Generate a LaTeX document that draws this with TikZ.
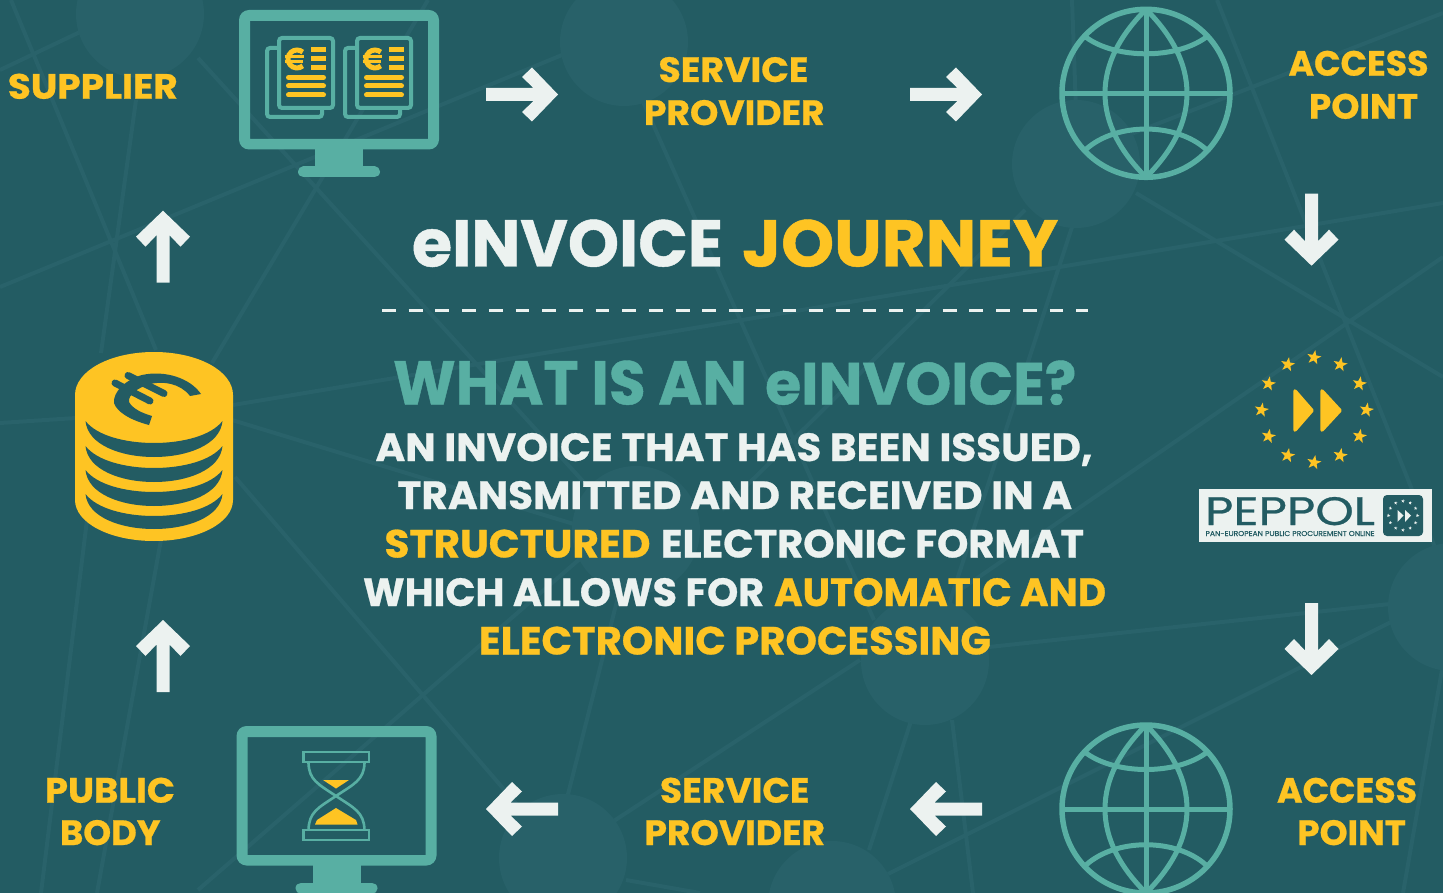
\documentclass[tikz,border=0pt]{standalone}
\usepackage{graphicx}
\usepackage{fontspec}
\setmainfont{Poppins}[BoldFeatures={FakeBold=0.7}]
\newfontfamily\logofont{Poppins}[FakeBold=0.6]
\usetikzlibrary{calc}
\definecolor{bgc}{HTML}{235C63}
\definecolor{netc}{HTML}{29626A}
\definecolor{tealc}{HTML}{58AFA3}
\definecolor{yelc}{HTML}{FEC423}
\definecolor{whc}{HTML}{ECF2F0}
% name, x, baseline y, width, height, text
\newcommand\txt[7][yelc]{\node[lab,text=#1] (#2) at (#3,#4) {\resizebox{#5pt}{#6pt}{\bfseries #7}};}
\newcommand\wrun[3]{\resizebox{#1pt}{#2pt}{\bfseries #3}}
\newcommand\yl[1]{\textcolor{yelc}{#1}}
\newcommand\starshape[1]{(-80:#1) -- (-44:0.4*#1) -- (-8:#1) -- (28:0.4*#1) -- (64:#1) -- (100:0.4*#1) -- (136:#1) -- (172:0.4*#1) -- (208:#1) -- (244:0.4*#1) -- cycle}
\newcommand\crescent[3]{%
  \pgfmathsetmacro\cu{(8*#2-2*#1)/6}\pgfmathsetmacro\cl{(8*#3-2*#1)/6}%
  \fill[bgc] (85.5,#1) .. controls (108,\cu) and (200,\cu) .. (222.5,#1)
     .. controls (218,\cl) and (90,\cl) .. (85.5,#1) -- cycle;}
\tikzset{
  lab/.style={anchor=base west,inner sep=0pt,outer sep=0pt},
  net/.style={draw=netc,line width=4pt},
  hub/.style={fill=netc!80!bgc},
  icon/.style={draw=tealc,line width=5pt},
  blockarrow/.pic={\fill[whc] (0,0) -- (-26,27) -- (-36,17.5) -- (-24.5,6.5) -- (-72,6.5) -- (-72,-6.5) -- (-24.5,-6.5) -- (-36,-17.5) -- (-26,-27) -- cycle;},
  monitor/.pic={
    \fill[tealc,even odd rule,rounded corners=10pt] (0,0) rectangle (200,139.5) [sharp corners] (11,11) rectangle (189,129);
    \fill[tealc] (76,139) rectangle (124,157);
    \draw[tealc,line width=11pt,line cap=round] (64.5,162) -- (135.5,162);
  },
  euro/.pic={
    \draw[yelc,line width=5pt] (50:9) arc[start angle=50,end angle=310,radius=9];
    \draw[yelc,line width=2.8pt] (-12.5,-2.8) -- (7,-2.8) (-12.5,2.8) -- (6,2.8);
  },
  docpair/.pic={
    \draw[tealc,line width=4pt,rounded corners=3pt] (2,14) rectangle (57,83);
    \draw[tealc,fill=bgc,line width=4pt,rounded corners=3pt] (14,4) rectangle (68,74);
    \pic at (32,25) {euro};
    \draw[yelc,line width=5pt,line cap=round] (23.5,43.5) -- (58.5,43.5) (23.5,52) -- (58.5,52) (23.5,61) -- (58.5,61);
    \draw[yelc,line width=5pt] (46,16) -- (61,16) (46,25) -- (61,25) (46,34) -- (61,34);
  },
  globe/.pic={
    \draw[icon,line width=5.5pt] (0,0) circle[radius=84];
    \draw[icon] (0,-84) -- (0,84) (-84,0) -- (84,0);
    \draw[icon] (0,-84) .. controls (-26,-58) and (-41,-30) .. (-41,0) .. controls (-41,30) and (-26,58) .. (0,84);
    \draw[icon] (0,-84) .. controls (26,-58) and (41,-30) .. (41,0) .. controls (41,30) and (26,58) .. (0,84);
    \draw[icon] (-60,-56) .. controls (-30,-34) and (30,-34) .. (60,-56);
    \draw[icon] (-60,56) .. controls (-30,29) and (30,29) .. (60,56);
  },
}
\begin{document}
\begin{tikzpicture}[x=1pt,y=-1pt]
\useasboundingbox (0,0) rectangle (1443,893);
\fill[bgc] (0,0) rectangle (1443,893);
\begin{scope}
\clip (0,0) rectangle (1443,893);
% background network
\foreach \a/\b/\c/\d in {11/0/156/350, 0/70/80/32, 198/58/600/500, 0/287/562/55, 136/100/101/353,
  428/0/212/363, 233/405/1443/203, 0/423/76/418, 232/420/600/532, 235/477/563/858, 590/550/198/890,
  87/520/41/893, 170/490/97/893, 1217/0/1440/560, 1136/193/1443/377, 1443/257/960/590, 1443/13/1090/150,
  1072/0/1076/110, 1072/227/869/850, 1025/210/722/510, 640/95/874/620, 888/874/1395/620, 989/647/1390/604,
  600/830/860/660, 640/510/543/893, 952/720/973/893, 1443/664/1403/893, 626/880/700/893}
  \draw[net] (\a,\b) -- (\c,\d);
\foreach \a/\b in {140/14, 624/42, 1076/164, 1452/607, 925/661, 832/905, 563/858, 636/530}
  \fill[hub] (\a,\b) circle[radius=64];
\end{scope}

% arrows
\pic at (558,94.5) {blockarrow};
\pic at (982,94.5) {blockarrow};
\pic[rotate=-90] at (1311.5,265.7) {blockarrow};
\pic[rotate=-90] at (1311.5,675) {blockarrow};
\pic[rotate=180] at (486,809) {blockarrow};
\pic[rotate=180] at (910,809) {blockarrow};
\pic[rotate=90] at (163,620) {blockarrow};
\pic[rotate=90] at (163,210.7) {blockarrow};

% top monitor
\pic at (239,10) {monitor};
\pic at (265,34) {docpair};
\pic at (343,34) {docpair};

% bottom monitor with hourglass
\pic at (236.5,726) {monitor};
\draw[tealc,line width=2.6pt] (303.5,752) rectangle (369,762) (303.5,830) rectangle (369,840);
\draw[tealc,line width=2.6pt] (308.5,763) .. controls (309,780) and (318,784) .. (336,796) .. controls (354,808) and (364,812) .. (364.5,830);
\draw[tealc,line width=2.6pt] (364.5,763) .. controls (364,780) and (354,784) .. (336,796) .. controls (318,808) and (309,812) .. (308.5,830);
\fill[yelc] (323,780) -- (349,780) -- (336,788.5) -- cycle;
\fill[yelc] (336,808) -- (356,820) -- (357.5,824.5) -- (315,824.5) -- (317,820) -- cycle;

% globes
\pic at (1146,93.3) {globe};
\pic at (1146,809) {globe};

% coins
\fill[yelc] (75,395) .. controls (75,371) and (110,352) .. (154,352) .. controls (198,352) and (233,371) .. (233,395)
  -- (233,500) .. controls (233,523) and (198,541) .. (154,541) .. controls (110,541) and (75,523) .. (75,500) -- cycle;
\crescent{421}{443}{457}
\crescent{446}{468}{482}
\crescent{470}{492}{506}
\crescent{494}{516}{529}
\fill[bgc] (201,394) -- (190,396) .. controls (180,383) and (163,381) .. (150,384) .. controls (137,388) and (128,395) .. (129,402)
  .. controls (133,409) and (142,413) .. (152,416) -- (149,425) .. controls (130,420) and (117,412) .. (114,403)
  .. controls (113,392) and (125,380) .. (142,375) .. controls (165,370) and (190,378) .. (201,394) -- cycle;
\draw[bgc,line width=7pt,line cap=round] (115,383) -- (150,401) (128,375.5) -- (164,393.5);

% PEPPOL stars and logo
\foreach \a in {0,30,...,330}
  \fill[yelc,shift={($(1314,410)+(\a:52.5)$)}] \starshape{7.5};
\fill[yelc,draw=yelc,line width=3.5pt,line join=round] (1295,391) -- (1312,410.5) -- (1295,430) -- cycle;
\fill[yelc,draw=yelc,line width=3.5pt,line join=round] (1322,391) -- (1340,410.5) -- (1322,430) -- cycle;
\fill[whc] (1199,489) rectangle (1432,542);
\node[lab,text=bgc] (peppol) at (1205,525) {\resizebox{170pt}{28pt}{\logofont PEPPOL}};
\node[lab,text=bgc] (pan) at (1205.5,536) {\resizebox{169pt}{5pt}{\logofont PAN-EUROPEAN PUBLIC PROCUREMENT ONLINE}};
\fill[bgc,rounded corners=4pt] (1383,495) rectangle (1423,536);
\foreach \a in {0,30,...,330}
  \fill[whc,shift={($(1403,515.5)+(\a:14.5)$)}] \starshape{1.8};
\fill[whc] (1397.5,510) -- (1403.5,515.5) -- (1397.5,522) -- cycle;
\fill[whc] (1405,510) -- (1411,515.5) -- (1405,522) -- cycle;

% dashed rule
\coordinate (ruleL) at (382,310.7);
\coordinate (ruleR) at (1088,310.7);
\draw[whc,line width=2.4pt,dash pattern=on 13.8pt off 12.9pt] (ruleL) -- (ruleR);

% labels
\txt{supplier}{7.8}{98.7}{170}{25}{SUPPLIER}
\txt{sp1}{658.5}{82}{150}{25}{SERVICE}
\txt{sp2}{644}{125}{180.5}{25}{PROVIDER}
\txt{ap1}{1288.5}{75.7}{140}{25}{ACCESS}
\txt{ap2}{1309}{118.7}{109}{25}{POINT}
\txt{pb1}{45}{802.7}{130}{25}{PUBLIC}
\txt{pb2}{60}{845}{100.5}{25}{BODY}
\txt{sp3}{660}{802.7}{149.5}{25}{SERVICE}
\txt{sp4}{644.5}{845}{180.5}{25}{PROVIDER}
\txt{ap3}{1277}{802.7}{140}{25}{ACCESS}
\txt{ap4}{1297.4}{845}{108.5}{25}{POINT}
\node[lab] (title) at (412,266.5) {\wrun{311}{47}{\textcolor{whc}{eINVOICE}}\hspace{19pt}\wrun{316}{47}{\yl{JOURNEY}}};
\node[lab,text=tealc] (what) at (393,404.5) {\wrun{354}{44}{WHAT IS AN}\hspace{18pt}\wrun{311}{44}{eINVOICE?}};
\txt[whc]{l1}{375.5}{461}{717}{28}{AN INVOICE THAT HAS BEEN ISSUED,}
\txt[whc]{l2}{397.5}{509}{674.5}{28}{TRANSMITTED AND RECEIVED IN A}
\node[lab] (l3) at (384.5,557.5) {\wrun{266}{28}{\yl{STRUCTURED}}\hspace{10.5pt}\wrun{423}{28}{\textcolor{whc}{ELECTRONIC FORMAT}}};
\node[lab] (l4) at (363,606) {\wrun{401}{28}{\textcolor{whc}{WHICH ALLOWS FOR}}\hspace{10pt}\wrun{332}{28}{\yl{AUTOMATIC AND}}};
\txt{l5}{479}{654.5}{512}{28}{ELECTRONIC PROCESSING}
\end{tikzpicture}
\end{document}
